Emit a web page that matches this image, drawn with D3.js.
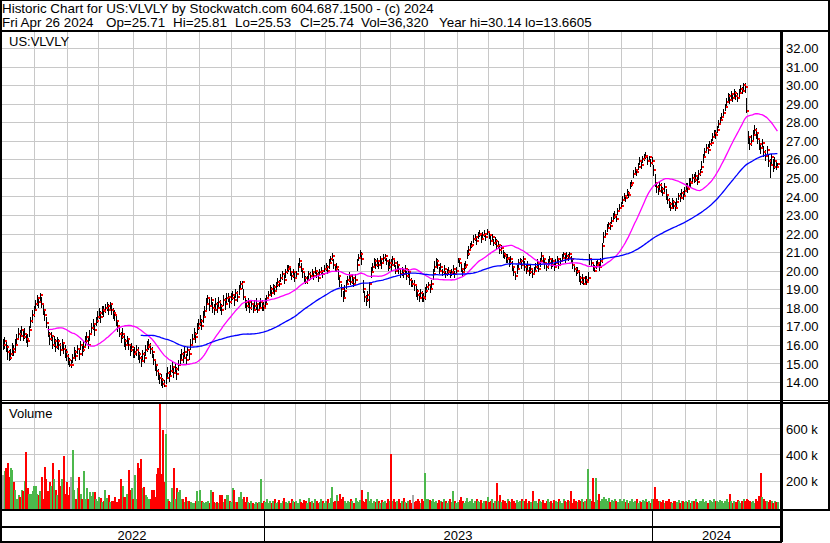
<!DOCTYPE html>
<html><head><meta charset="utf-8">
<script src="https://cdn.jsdelivr.net/npm/d3@7"></script>
<style>
body{margin:0;background:#fff}
svg{display:block}
text{font-family:"Liberation Sans",Arial,sans-serif;fill:#000}
</style>
</head><body>
<svg id="c" width="830" height="543"></svg>
<script>
// ---------------- DATA (one inner array per calendar month, May 2022 .. Apr 2024) ----------------
const holidays = ["2022-05-30","2022-06-20","2022-07-04","2022-09-05","2022-11-24","2022-12-26",
  "2023-01-02","2023-01-16","2023-02-20","2023-04-07","2023-05-29","2023-06-19","2023-07-04",
  "2023-09-04","2023-11-23","2023-12-25","2024-01-01","2024-01-15","2024-02-19","2024-03-29"];

const closeM = [
 [16.0,16.2,15.9,15.6,15.3,15.5,15.8,15.6,16.0,16.3,16.6,16.5,16.8,16.4,16.6,16.3,16.2,16.8,17.3,17.6,17.9],
 [18.2,18.5,18.3,18.7,18.2,17.9,17.6,17.2,16.6,16.3,16.5,16.0,16.2,15.9,16.2,16.0,15.7,16.1,15.8,15.6,15.4],
 [15.2,14.9,14.9,15.3,15.6,15.4,15.8,15.5,16.0,15.7,15.9,16.2,16.4,16.0,16.6,16.9,17.1,16.8,17.3,17.5],
 [17.7,17.5,17.9,17.8,18.0,18.1,17.9,18.2,17.9,17.7,17.6,17.3,17.0,16.6,16.4,16.6,16.2,16.0,16.3,16.0,15.7,15.9,15.5],
 [15.6,15.7,15.5,15.3,15.1,15.5,15.3,15.7,15.9,16.0,15.8,15.6,15.2,14.9,14.6,14.4,14.2,14.1,13.9,13.8,14.2],
 [14.5,14.3,14.6,14.8,14.5,14.7,14.4,14.9,15.2,15.5,15.3,15.6,15.2,15.7,15.5,16.0,16.3,16.6,16.4,16.9,17.1],
 [17.3,17.0,17.5,17.8,18.2,18.5,18.1,18.4,18.0,17.9,18.2,18.0,18.3,18.1,17.9,18.4,18.2,18.5,18.6,18.3,18.5],
 [18.7,18.4,18.8,18.6,19.0,19.3,19.4,18.6,18.3,18.1,18.3,18.0,18.2,17.9,18.1,18.2,17.9,18.0,18.3,18.1,18.0],
 [18.2,18.5,18.7,19.0,18.8,19.1,18.9,19.2,19.4,19.3,19.6,19.8,19.5,19.9,20.1,20.2,19.9,19.7,19.9,19.6],
 [19.8,20.2,20.5,20.1,19.9,19.6,19.4,19.5,19.8,19.7,19.9,19.7,20.0,19.8,19.6,19.9,20.0,19.8,20.1],
 [20.2,20.0,20.4,20.6,20.8,20.3,20.1,20.2,19.7,19.4,19.0,18.5,18.9,19.3,19.5,19.7,19.4,19.6,19.3,19.5,20.3,20.7,20.9],
 [20.6,19.0,18.6,18.4,18.7,19.3,19.9,20.2,20.5,20.3,20.5,20.3,20.6,20.4,20.7,20.8,20.5,20.2,20.4],
 [20.3,20.6,20.4,20.0,20.3,20.1,19.8,20.0,19.8,20.1,19.7,19.9,19.5,19.3,19.3,19.2,18.9,18.7,18.5,18.8,18.6,18.5],
 [18.9,19.1,19.2,19.0,19.3,19.8,20.2,20.5,20.3,20.0,20.2,19.9,20.1,19.8,19.9,20.0,19.8,19.9,20.1,19.8,20.0],
 [20.6,20.4,20.1,19.9,20.2,20.3,20.9,21.1,21.3,21.4,21.7,21.8,21.6,21.9,22.0,21.7,21.9,22.0,21.8,22.1],
 [21.9,21.6,21.8,21.5,21.6,21.3,21.4,21.1,21.2,20.9,20.8,20.6,20.7,20.4,20.6,20.2,19.9,19.7,20.1,20.4,20.5,20.3,20.6],
 [20.2,20.0,20.3,19.9,20.1,19.8,20.0,20.2,20.4,20.1,20.5,20.8,20.6,20.4,20.2,20.4,20.6,20.3,20.5,20.2],
 [20.4,20.6,20.3,20.5,20.7,20.9,20.6,20.8,20.7,20.9,20.6,20.3,20.1,19.9,20.0,19.6,19.4,19.6,19.3,19.5,19.4,19.6],
 [20.6,20.4,20.2,20.0,20.3,20.4,20.2,20.5,21.3,21.8,22.0,22.3,22.5,22.4,22.7,22.9,23.0,22.8,23.2,23.4,23.5],
 [23.8,24.0,23.9,24.2,24.1,24.6,24.7,25.2,25.4,25.3,25.6,25.9,25.7,26.0,26.1,26.2,25.9,26.1,25.8,25.9],
 [25.4,24.7,24.5,24.3,24.6,24.4,24.2,24.5,24.1,23.8,23.6,23.4,23.7,23.5,23.4,23.7,24.0,23.9,24.2,24.0,24.3],
 [24.5,24.4,24.8,24.7,25.0,24.9,25.1,24.8,25.2,25.3,25.6,26.1,26.4,26.6,26.5,26.8,26.9,27.2,27.4,27.3],
 [27.6,27.9,28.1,28.3,28.5,28.8,29.1,29.4,29.2,29.5,29.3,29.6,29.4,29.3,29.6,29.8,29.7,30.0,29.9,28.6],
 [27.2,26.8,27.0,27.3,27.6,27.4,27.1,26.8,26.6,26.9,26.4,26.2,26.5,25.9,25.7,26.1,25.6,25.9,25.6,25.74]
];

const highM = [
 [16.3,16.4,16.2,16.0,15.7,15.8,16.1,16.0,16.3,16.6,16.9,16.8,17.0,16.8,16.9,16.6,16.6,17.0,17.5,17.9,18.1],
 [18.4,18.7,18.6,18.8,18.6,18.2,17.9,17.5,17.0,16.7,16.7,16.4,16.5,16.3,16.4,16.3,16.1,16.3,16.1,16.0,15.8],
 [15.5,15.3,15.2,15.5,15.9,15.7,16.0,15.8,16.2,16.0,16.2,16.5,16.7,16.4,16.8,17.2,17.4,17.1,17.5,17.8],
 [18.0,17.8,18.1,18.1,18.2,18.3,18.2,18.3,18.2,18.0,17.9,17.6,17.3,17.0,16.7,16.9,16.6,16.3,16.5,16.3,16.0,16.1,15.8],
 [15.9,16.0,15.9,15.6,15.4,15.7,15.6,16.0,16.2,16.3,16.1,15.9,15.5,15.2,14.9,14.7,14.5,14.4,14.2,14.1,14.5],
 [14.8,14.6,14.9,15.1,14.8,15.0,14.8,15.2,15.5,15.8,15.6,15.9,15.5,15.9,15.8,16.3,16.6,16.9,16.7,17.2,17.4],
 [17.6,17.4,17.8,18.1,18.5,18.7,18.5,18.6,18.3,18.2,18.5,18.3,18.6,18.4,18.2,18.7,18.5,18.8,18.8,18.6,18.8],
 [18.9,18.7,19.0,18.9,19.2,19.45,19.45,19.0,18.6,18.4,18.5,18.3,18.4,18.2,18.4,18.5,18.2,18.3,18.5,18.4,18.3],
 [18.5,18.7,18.9,19.2,19.1,19.3,19.2,19.4,19.6,19.5,19.8,20.0,19.8,20.1,20.3,20.3,20.2,20.0,20.1,19.9],
 [20.0,20.4,20.7,20.4,20.1,19.9,19.7,19.7,20.0,19.9,20.1,19.9,20.2,20.0,19.9,20.1,20.2,20.0,20.3],
 [20.4,20.3,20.6,20.8,20.95,20.6,20.3,20.4,20.1,19.7,19.3,18.9,19.2,19.5,19.7,19.9,19.7,19.8,19.6,19.8,20.6,20.9,21.1],
 [21.0,19.5,18.9,18.7,18.9,19.4,20.2,20.4,20.7,20.6,20.7,20.5,20.8,20.6,20.9,20.9,20.7,20.5,20.6],
 [20.6,20.8,20.7,20.3,20.5,20.3,20.1,20.2,20.1,20.3,20.0,20.1,19.8,19.6,19.5,19.5,19.2,19.0,18.8,19.0,18.9,18.8],
 [19.1,19.3,19.4,19.3,19.5,20.1,20.5,20.7,20.6,20.2,20.4,20.1,20.3,20.0,20.1,20.2,20.0,20.1,20.3,20.0,20.2],
 [20.7,20.6,20.4,20.1,20.4,20.5,21.1,21.3,21.5,21.6,21.9,22.0,21.8,22.1,22.2,21.9,22.1,22.2,22.0,22.25],
 [22.1,21.9,22.0,21.7,21.8,21.7,21.6,21.4,21.4,21.1,21.0,20.9,20.9,20.7,20.8,20.5,20.2,20.0,20.3,20.6,20.7,20.6,20.8],
 [20.5,20.3,20.5,20.2,20.3,20.1,20.2,20.4,20.6,20.4,20.7,21.0,20.8,20.7,20.4,20.6,20.8,20.6,20.7,20.4],
 [20.6,20.8,20.6,20.7,20.9,21.0,20.9,21.0,20.9,21.0,20.8,20.6,20.3,20.2,20.2,19.9,19.7,19.8,19.6,19.7,19.7,19.9],
 [20.9,20.6,20.4,20.3,20.5,20.6,20.4,20.7,21.5,22.1,22.2,22.5,22.6,22.6,22.9,23.1,23.2,23.0,23.4,23.6,23.7],
 [24.0,24.2,24.1,24.4,24.3,24.8,24.9,25.4,25.6,25.5,25.8,26.1,25.9,26.2,26.3,26.4,26.1,26.2,26.0,26.1],
 [25.7,25.2,24.8,24.6,24.8,24.7,24.5,24.7,24.4,24.1,23.9,23.7,23.9,23.8,23.7,23.9,24.2,24.2,24.4,24.3,24.5],
 [24.7,24.7,25.0,25.0,25.2,25.2,25.3,25.1,25.4,25.5,25.9,26.3,26.6,26.8,26.8,27.0,27.1,27.4,27.6,27.6],
 [27.8,28.1,28.3,28.5,28.7,29.0,29.3,29.6,29.5,29.7,29.6,29.8,29.7,29.6,29.8,30.0,29.9,30.14,30.1,29.3],
 [27.5,27.2,27.3,27.6,27.85,27.7,27.4,27.1,26.9,27.1,26.7,26.5,26.7,26.3,26.0,26.3,26.0,26.1,25.9,25.81]
];

const lowM = [
 [15.7,15.8,15.6,15.2,15.1,15.2,15.4,15.4,15.6,16.0,16.3,16.2,16.4,16.2,16.3,16.1,15.9,16.4,16.9,17.2,17.5],
 [17.8,18.1,18.0,18.3,18.0,17.6,17.3,16.9,16.4,16.0,16.2,15.8,15.9,15.6,15.8,15.7,15.4,15.8,15.5,15.3,15.1],
 [14.9,14.8,14.75,15.0,15.3,15.1,15.5,15.2,15.7,15.4,15.6,15.9,16.1,15.8,16.2,16.6,16.8,16.5,17.0,17.2],
 [17.4,17.2,17.6,17.5,17.7,17.8,17.6,17.9,17.6,17.4,17.3,17.0,16.7,16.4,16.1,16.3,15.9,15.7,16.0,15.7,15.4,15.6,15.3],
 [15.3,15.4,15.2,15.0,14.8,15.1,15.0,15.4,15.6,15.7,15.5,15.3,14.9,14.6,14.3,14.1,13.9,13.8,13.66,13.7,13.9],
 [14.2,14.0,14.3,14.5,14.2,14.4,14.1,14.6,14.9,15.2,15.0,15.3,14.9,15.4,15.2,15.7,16.0,16.3,16.1,16.6,16.8],
 [17.0,16.8,17.2,17.5,17.9,18.2,17.8,18.1,17.7,17.6,17.9,17.7,18.0,17.8,17.6,18.1,17.9,18.2,18.3,18.0,18.2],
 [18.4,18.1,18.5,18.3,18.7,19.0,19.0,18.4,18.0,17.8,18.0,17.7,17.9,17.7,17.8,17.9,17.7,17.8,18.0,17.8,17.8],
 [18.0,18.2,18.5,18.7,18.6,18.8,18.7,18.9,19.1,19.1,19.4,19.5,19.3,19.6,19.8,19.9,19.7,19.5,19.6,19.4],
 [19.6,19.9,20.2,19.9,19.6,19.4,19.3,19.3,19.5,19.5,19.7,19.5,19.8,19.6,19.4,19.7,19.8,19.6,19.9],
 [20.0,19.8,20.1,20.4,20.5,20.1,19.9,19.9,19.5,19.1,18.6,18.3,18.6,19.0,19.3,19.4,19.2,19.3,19.1,19.2,20.0,20.5,20.6],
 [20.3,18.8,18.3,18.1,18.3,18.0,19.6,19.9,20.2,20.1,20.2,20.1,20.3,20.1,20.4,20.5,20.3,20.0,20.1],
 [20.0,20.3,20.2,19.8,20.0,19.8,19.6,19.7,19.6,19.8,19.5,19.6,19.2,19.1,19.1,18.9,18.6,18.4,18.3,18.5,18.3,18.3],
 [18.4,18.8,18.95,18.8,19.0,19.5,19.9,20.2,20.1,19.8,19.9,19.7,19.8,19.6,19.7,19.8,19.6,19.7,19.8,19.6,19.8],
 [20.4,20.2,19.9,19.7,19.9,20.1,20.6,20.8,21.1,21.2,21.5,21.6,21.4,21.7,21.8,21.5,21.7,21.8,21.6,21.9],
 [21.7,21.4,21.6,21.3,21.4,21.1,21.2,20.9,20.9,20.7,20.6,20.4,20.4,20.2,20.3,20.0,19.7,19.5,19.8,20.1,20.3,20.1,20.3],
 [20.0,19.8,20.0,19.7,19.8,19.6,19.8,19.9,20.1,19.9,20.2,20.5,20.4,20.1,20.0,20.1,20.3,20.1,20.2,20.0],
 [20.2,20.4,20.1,20.3,20.5,20.6,20.4,20.6,20.5,20.6,20.4,20.1,19.9,19.7,19.8,19.4,19.2,19.3,19.2,19.3,19.2,19.4],
 [20.3,20.2,20.0,19.9,20.1,20.2,20.0,20.2,20.4,21.5,21.8,22.1,22.3,22.2,22.5,22.7,22.8,22.6,23.0,23.2,23.3],
 [23.6,23.8,23.7,24.0,23.9,24.4,24.5,25.0,25.2,25.1,25.4,25.7,25.5,25.8,25.9,26.0,25.7,25.9,25.6,25.7],
 [25.1,24.5,24.2,24.1,24.3,24.2,24.0,24.2,23.8,23.6,23.4,23.2,23.4,23.3,23.2,23.4,23.8,23.7,23.9,23.8,24.0],
 [24.3,24.2,24.5,24.5,24.8,24.7,24.8,24.6,24.9,25.1,25.4,25.8,26.2,26.4,26.3,26.6,26.7,27.0,27.2,27.1],
 [27.4,27.7,27.9,28.1,28.3,28.6,28.9,29.1,29.0,29.2,29.1,29.3,29.2,29.1,29.3,29.5,29.5,29.7,29.6,28.5],
 [26.8,26.5,26.7,27.0,27.3,27.1,26.8,26.5,26.3,26.6,26.1,25.9,26.2,25.6,25.0,25.7,25.3,25.5,25.4,25.53]
];

// volume in thousands of shares
const volumeM = [
 [246,270,298,336,228,298,280,190,130,55,90,70,130,120,200,418,140,100,95,120,160],
 [160,100,90,120,228,60,305,208,120,190,160,336,208,130,90,280,160,208,387,100,190],
 [90,150,228,438,130,60,140,228,100,60,270,55,140,60,110,80,110,110,55,45],
 [75,65,35,45,130,65,90,35,45,40,75,35,35,55,208,161,75,70,100,280,130,140,60],
 [246,55,336,298,367,140,150,90,75,55,60,130,130,75,250,298,785,250,585,190,554],
 [60,45,35,140,298,60,140,110,130,55,55,35,75,45,40,35,25,25,40,120,45],
 [130,45,35,25,35,45,30,130,110,35,25,35,30,90,90,35,55,90,90,40,35],
 [140,130,35,35,75,110,55,75,35,75,35,25,45,25,20,35,30,35,215,25,40],
 [35,55,25,40,30,45,60,25,35,50,30,40,65,35,25,45,30,55,40,35],
 [45,30,60,35,25,50,40,30,65,35,45,25,55,40,30,35,60,45,30],
 [40,55,30,65,151,35,45,90,40,100,55,75,40,30,45,35,55,40,30,65,45,35,50],
 [130,45,35,60,110,40,55,30,45,35,60,40,30,50,35,45,30,55,40],
 [400,45,60,35,40,55,30,45,65,35,25,40,50,30,92,35,45,60,40,30,55,45],
 [254,55,60,50,45,60,35,40,30,50,45,35,60,40,30,45,55,35,123,40,30],
 [35,50,70,40,30,45,65,35,40,55,30,45,60,40,35,50,30,45,40,70],
 [35,45,60,30,40,182,45,90,35,50,40,30,60,45,35,55,40,30,50,35,45,60,40],
 [40,55,30,45,35,120,40,45,30,60,45,35,50,30,40,55,35,45,30,50],
 [45,35,55,40,30,60,45,35,50,40,120,30,55,45,35,50,40,60,35,45,55,290],
 [60,45,220,35,220,50,98,45,60,70,55,40,65,35,50,45,60,40,35,55,45],
 [40,55,35,50,30,45,60,35,40,55,30,45,35,50,40,60,35,45,30,55],
 [60,151,55,40,45,35,50,30,45,40,55,35,30,45,40,35,50,30,45,40,35],
 [40,35,50,30,45,40,55,35,30,45,40,60,35,45,30,50,40,35,55,45],
 [45,35,50,40,30,45,55,35,100,40,30,45,35,50,40,30,45,55,40,60],
 [50,40,35,45,30,55,40,85,254,75,60,45,40,35,50,40,30,45,38,36.32]
];

const priceTicks = [14,15,16,17,18,19,20,21,22,23,24,25,26,27,28,29,30,31,32];
const volTicks = [200,400,600];
const yearLabels = ["2022","2023","2024"];
const maPeriods = [30, 90];
const titleLine = "Historic Chart for US:VLVLY by Stockwatch.com 604.687.1500 - (c) 2024";
const infoTokens = ["Fri Apr 26 2024","Op=25.71","Hi=25.81","Lo=25.53","Cl=25.74","Vol=36,320","Year hi=30.14","lo=13.6605"];
const infoX = [2, 106, 173, 235, 300, 361, 439, 525];
const symbol = "US:VLVLY";

// ---------------- BUILD ----------------
const hol = new Set(holidays);
const dates = [];
for (let t = Date.UTC(2022,4,2); t <= Date.UTC(2024,3,26); t += 864e5) {
  const d = new Date(t), wd = d.getUTCDay(), s = d.toISOString().slice(0,10);
  if (wd !== 0 && wd !== 6 && !hol.has(s)) dates.push(d);
}
const monthCounts = d3.rollups(dates, v => v.length, d => d.toISOString().slice(0,7)).map(r => r[1]);
const bad = [];
monthCounts.forEach((c,k) => {
  [["close",closeM],["high",highM],["low",lowM],["vol",volumeM]].forEach(([nm,arr]) => {
    if (!arr[k] || arr[k].length !== c) bad.push(nm+" m"+k+" "+(arr[k]?arr[k].length:"-")+"/"+c);
  });
});
if (bad.length) throw new Error("length mismatch: " + bad.join("; "));

const close = closeM.flat(), high = highM.flat(), low = lowM.flat(), volume = volumeM.flat();
const n = close.length;
const data = d3.range(n).map(i => ({i, date: dates[i], c: close[i], h: high[i], l: low[i], v: volume[i],
  dir: i === 0 ? 0 : Math.sign(Math.round((close[i]-close[i-1])*100))}));

const svg = d3.select("#c");
const x = d3.scaleLinear().domain([0, n-1]).range([2.5, 777.4]);
const y = d3.scaleLinear().domain([14, 32]).range([381.9, 48]);
const yv = d3.scaleLinear().domain([0, 600]).range([506.6, 428.4]);
const GRID = "#c8c8c8";
const PX0 = 0, PX1 = 780;

// month starts & year starts
const monthStarts = [], yearStarts = [];
data.forEach((d,i) => {
  if (i === 0) return;
  if (d.date.getUTCMonth() !== data[i-1].date.getUTCMonth()) monthStarts.push(i);
  if (d.date.getUTCFullYear() !== data[i-1].date.getUTCFullYear()) yearStarts.push(i);
});

const grid = svg.append("g");
// horizontal price gridlines
grid.selectAll(".hp").data(priceTicks).join("line")
  .attr("x1", PX0).attr("x2", PX1)
  .attr("y1", d => Math.round(y(d)) + 0.5).attr("y2", d => Math.round(y(d)) + 0.5)
  .attr("stroke", GRID);
// horizontal volume gridlines
grid.selectAll(".hv").data(volTicks).join("line")
  .attr("x1", PX0).attr("x2", PX1)
  .attr("y1", d => Math.round(yv(d)) + 0.5).attr("y2", d => Math.round(yv(d)) + 0.5)
  .attr("stroke", GRID);
// vertical month gridlines
const mx = i => Math.round(x(i) - 1) + 0.5;
grid.selectAll(".vm").data(monthStarts).join("line")
  .attr("x1", mx).attr("x2", mx).attr("y1", 32).attr("y2", 400).attr("stroke", GRID);
grid.selectAll(".vm2").data(monthStarts).join("line")
  .attr("x1", mx).attr("x2", mx).attr("y1", 403).attr("y2", 509).attr("stroke", GRID);

// volume bars
svg.append("g").attr("shape-rendering", "crispEdges")
  .selectAll("rect").data(data).join("rect")
  .attr("x", d => Math.round(x(d.i) - 0.5))
  .attr("width", 1.6)
  .attr("y", d => yv(d.v))
  .attr("height", d => 509 - yv(d.v))
  .attr("fill", d => d.dir > 0 ? "#4cb84c" : d.dir < 0 ? "#ff0000" : "#a8a8a8");

// price bars (high-low)
const bars = svg.append("g").attr("shape-rendering", "crispEdges");
bars.selectAll("rect.hl").data(data).join("rect")
  .attr("x", d => Math.round(x(d.i)))
  .attr("width", 1)
  .attr("y", d => Math.round(y(d.h)))
  .attr("height", d => Math.max(2, Math.round(y(d.l)) - Math.round(y(d.h))))
  .attr("fill", "#000");
bars.selectAll("rect.cl").data(data).join("rect")
  .attr("x", d => Math.round(x(d.i)) + 1)
  .attr("width", 2)
  .attr("y", d => Math.round(y(d.c)) - 1)
  .attr("height", 2)
  .attr("fill", "#ff0000");

// moving averages
function sma(p) {
  return data.map((d,i) => i < p-1 ? null : d3.mean(close.slice(i-p+1, i+1)));
}
const maColors = ["#ff00ff", "#0000ff"];
maPeriods.forEach((p,k) => {
  const vals = sma(p);
  const line = d3.line().defined((d,i) => vals[i] !== null).x((d,i) => x(i)).y((d,i) => y(vals[i]));
  svg.append("path").datum(data).attr("d", line).attr("fill", "none")
    .attr("stroke", maColors[k]).attr("stroke-width", 1.3);
});

// ---------------- FRAME ----------------
const frame = svg.append("g").attr("shape-rendering", "crispEdges");
const rect = (x0,y0,w,h) => frame.append("rect").attr("x",x0).attr("y",y0).attr("width",w).attr("height",h).attr("fill","#000");
rect(0, 0, 830, 1);          // top
rect(0, 0, 2, 542);          // left
rect(828, 0, 2, 511);        // right outer
rect(0, 30, 830, 2);         // header bottom
rect(780, 32, 2.5, 510);     // plot right edge
rect(0, 400, 830, 1);        // panel separator
rect(0, 402, 830, 1.5);
rect(0, 509, 830, 2);        // volume bottom
rect(0, 526, 782, 1.5);      // row line
rect(0, 540.5, 782, 2);      // bottom line
yearStarts.forEach(i => rect(Math.round(x(i) - 1), 509, 1, 32));

// ---------------- TEXT ----------------
svg.append("text").attr("x", 2).attr("y", 13.3).attr("font-size", "13.4px").text(titleLine);
svg.append("g").selectAll("text").data(infoTokens).join("text")
  .attr("x", (d,i) => infoX[i]).attr("y", 27.3).attr("font-size", "13.4px").text(d => d);
svg.append("text").attr("x", 9).attr("y", 46).attr("font-size", "13px").text(symbol);
svg.append("text").attr("x", 9).attr("y", 418).attr("font-size", "13px").text("Volume");

const ay = svg.append("g").attr("transform", "translate(786,0)")
  .call(d3.axisRight(y).tickValues(priceTicks).tickSize(0).tickPadding(0).tickFormat(d3.format(".2f")));
ay.select(".domain").remove();
ay.attr("font-family", null).attr("font-size", null);
ay.selectAll("text").attr("font-size", "13px").attr("dy", "0.36em").attr("fill", "#000");

const av = svg.append("g").attr("transform", "translate(786,0)")
  .call(d3.axisRight(yv).tickValues(volTicks).tickSize(0).tickPadding(0).tickFormat(d => d + " k"));
av.select(".domain").remove();
av.attr("font-family", null).attr("font-size", null);
av.selectAll("text").attr("font-size", "13px").attr("dy", "0.36em").attr("fill", "#000");

// year labels centred between year boundaries
const bounds = [0, ...yearStarts.map(i => x(i) - 1), 781];
svg.append("g").selectAll("text").data(yearLabels).join("text")
  .attr("x", (d,k) => (bounds[k] + bounds[k+1]) / 2).attr("y", 539.5)
  .attr("text-anchor", "middle").attr("font-size", "13px").text(d => d);
</script>
</body></html>
